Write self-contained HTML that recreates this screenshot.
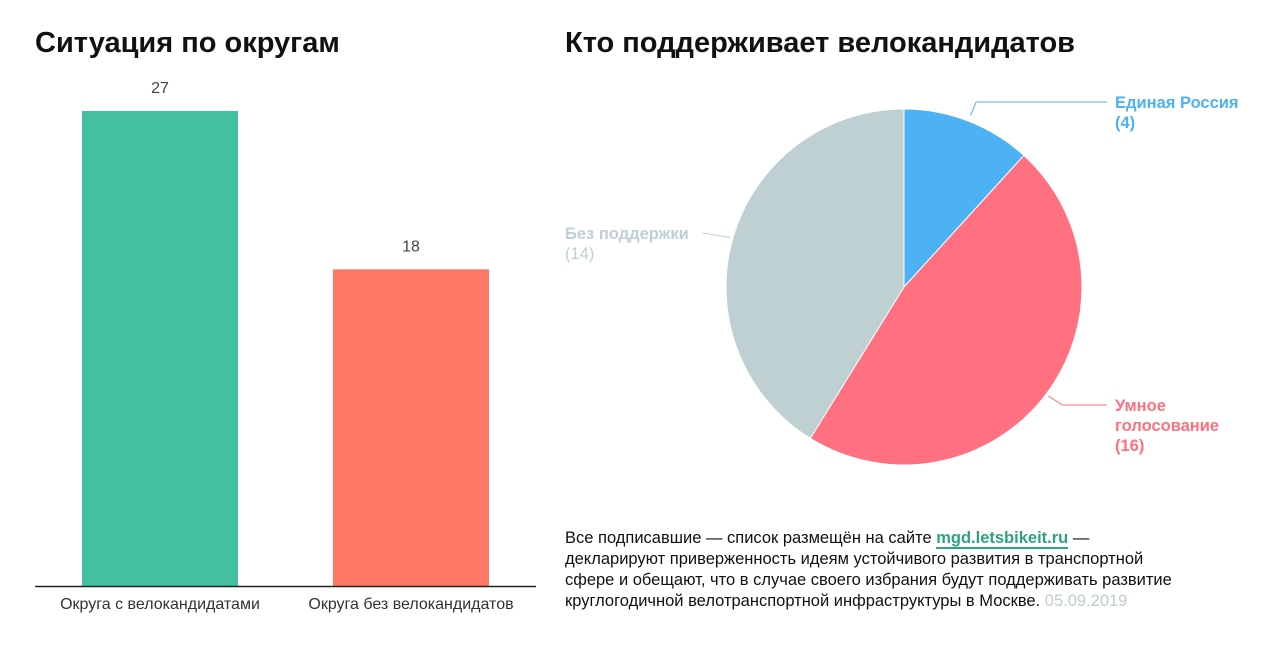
<!DOCTYPE html>
<html><head><meta charset="utf-8"><style>
body{margin:0;width:1280px;height:648px;background:#fff;font-family:"Liberation Sans",sans-serif;overflow:hidden;position:relative}
.t{position:absolute;font-weight:bold;font-size:29px;color:#111;top:27px}
.note{position:absolute;left:565px;top:528px;width:700px;font-size:16.5px;line-height:21px;color:#111;white-space:nowrap}
.note a{color:#2fa37f;font-weight:bold;text-decoration:none;border-bottom:2px solid #2fa37f}
</style></head><body>
<div class="t" style="left:35px">Ситуация по округам</div>
<div class="t" style="left:565px">Кто поддерживает велокандидатов</div>
<svg id="bars" width="560" height="648" style="position:absolute;left:0;top:0"></svg>
<svg id="pie" width="720" height="520" style="position:absolute;left:560px;top:0"></svg>
<div class="note">Все подписавшие — список размещён на сайте <a href="#">mgd.letsbikeit.ru</a> —<br>декларируют приверженность идеям устойчивого развития в транспортной<br>сфере и обещают, что в случае своего избрания будут поддерживать развитие<br>круглогодичной велотранспортной инфраструктуры в Москве. <span style="color:#bfcdd0">05.09.2019</span></div>
<script>
const barCats=["Округа с велокандидатами","Округа без велокандидатов"];
const barVals=[27,18];
const barColors=["#45bfa2","#ff7863"];
const pieCats=["Единая Россия","Умное голосование","Без поддержки"];
const pieVals=[4,16,14];
const pieColors=["#4db2f4","#ff7080","#bed0d2"];
const NS="http://www.w3.org/2000/svg";
function mk(p,tag,a){const e=document.createElementNS(NS,tag);for(const k in a)e.setAttribute(k,a[k]);p.appendChild(e);return e;}
const bs=document.getElementById('bars');
const base=586,pxPer=475/27;
const y=v=>base-v*pxPer;
const x=i=>82+i*251;
barVals.forEach((v,i)=>{
 const r=mk(bs,'rect',{x:x(i),y:y(v),width:156,height:base-y(v),fill:barColors[i]});
 
 
 const t=mk(bs,'text',{x:x(i)+78,y:y(v)-18,'text-anchor':'middle','font-size':16,fill:'#444'});t.textContent=v;
 
 
 const c=mk(bs,'text',{x:x(i)+78,y:base+23,'text-anchor':'middle','font-size':16,fill:'#333'});c.textContent=barCats[i];
 
 
});
const ax=mk(bs,'line',{x1:35,x2:536,y1:base+0.5,y2:base+0.5,stroke:'#222','stroke-width':1.5});


const ps=document.getElementById('pie');
const cx=344,cy=287,R=178;
const total=pieVals.reduce((a,b)=>a+b,0);
let a0=0;
const pt=(a,r)=>[cx+r*Math.sin(a),cy-r*Math.cos(a)];
const labelPos=[{x:555,y:108,lines:["Единая Россия"]},{x:555,y:411,lines:["Умное","голосование"]},{x:5,y:239,lines:["Без поддержки"]}];
pieVals.forEach((v,i)=>{
 const a1=a0+v/total*2*Math.PI;
 const [x0,y0]=pt(a0,R),[x1,y1]=pt(a1,R);
 const p=mk(ps,'path',{d:`M${cx},${cy}L${x0},${y0}A${R},${R} 0 ${a1-a0>Math.PI?1:0} 1 ${x1},${y1}Z`,fill:pieColors[i],stroke:'#fff','stroke-width':1});
 
 
 const am=(a0+a1)/2;
 const [ex,ey]=pt(am,R+8);
 const L=labelPos[i];
 let pts;
 if(i==2){pts=`${L.x+138},${L.y-6} ${pt(am,R+3).join(',')}`;}
 else if(i==0){pts=`${pt(am,R+6).join(',')} ${ex+5},${L.y-6} ${L.x-8},${L.y-6}`;}
 else {pts=`${pt(am,R+3).join(',')} ${ex+10},${L.y-6} ${L.x-8},${L.y-6}`;}
 const ln=mk(ps,'polyline',{points:pts,fill:'none',stroke:pieColors[i],'stroke-width':1});
 
 
 const t=mk(ps,'text',{x:L.x,y:L.y,'font-size':16.5,'font-weight':'bold',fill:pieColors[i]});
 
 
 const all=[...L.lines,'('+v+')'];
 all.forEach((s,j)=>{const sp=mk(t,'tspan',{x:L.x,dy:j?20:0});sp.textContent=s;if(j==all.length-1&&i==2)sp.setAttribute('font-weight','normal');});
 a0=a1;
});
</script>
</body></html>
